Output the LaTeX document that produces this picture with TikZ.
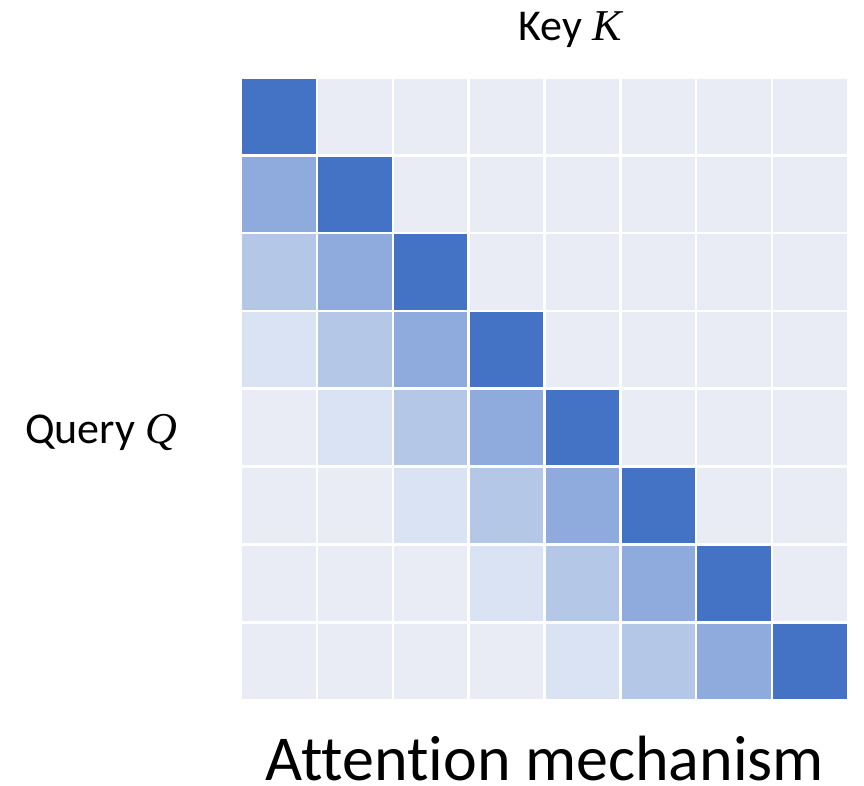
\documentclass[tikz,border=0pt]{standalone}
\usepackage{fontspec}
\setmainfont{Carlito}[Ligatures=NoCommon]
\newfontfamily\varfont{Liberation Serif}

% attention weights: diagonal strongest, fading over the three previous keys
\definecolor{shade0}{HTML}{4472C4}
\definecolor{shade1}{HTML}{8FAADC}
\definecolor{shade2}{HTML}{B4C7E7}
\definecolor{shade3}{HTML}{DAE3F3}
\definecolor{cellbg}{HTML}{E9EBF5}

\begin{document}
\begin{tikzpicture}[x=1pt,y=-1pt,
  cell/.style={draw=none,inner sep=0pt,minimum width=73.6pt,minimum height=75pt},
  label/.style={inner sep=0pt,font=\fontsize{44}{52}\selectfont},
  caption/.style={inner sep=0pt,font=\fontsize{64}{72}\selectfont}]
\useasboundingbox (0,0) rectangle (864,786);

\foreach \r in {1,...,8}{
  \foreach \c in {1,...,8}{
    \pgfmathtruncatemacro{\d}{\r-\c}
    \ifnum\d<0 \def\col{cellbg}\else\ifnum\d>3 \def\col{cellbg}\else\edef\col{shade\d}\fi\fi
    \node[cell,fill=\col] (c-\r-\c) at ({242+(\c-1)*75.9+36.8},{78.7+(\r-1)*77.9+37.5}) {};
  }
}

\node[label,anchor=base] (key) at (570,40.7) {Key {\varfont\itshape K}};
\node[label,anchor=base west] (query) at (25,443) {Query {\varfont\itshape Q}};
\node[caption,anchor=base] (title) at (545,780) {Attention mechanism};
\end{tikzpicture}
\end{document}
